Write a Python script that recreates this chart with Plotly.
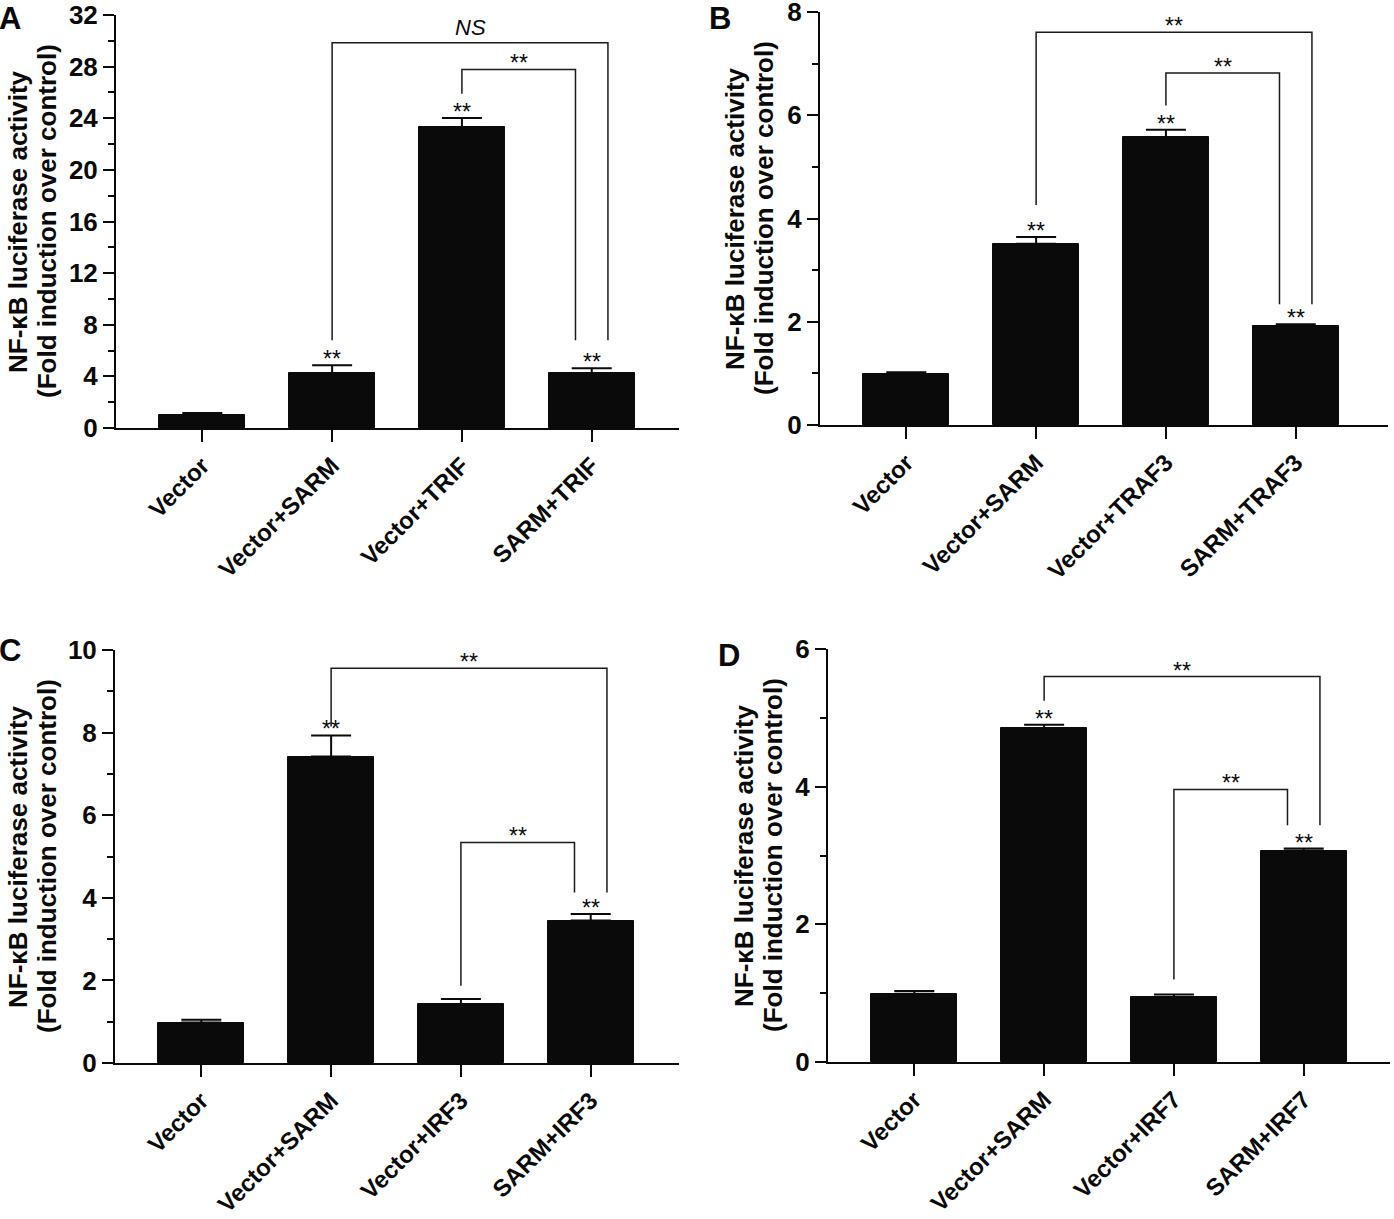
import plotly.graph_objects as go

W, H = 1394, 1219

# ---- data ---------------------------------------------------------------
groups_a = ["Vector", "Vector+SARM", "Vector+TRIF", "SARM+TRIF"]
mean_a = [1.0, 4.26, 23.3, 4.26]
err_a = [0.16, 0.60, 0.72, 0.37]
star_a = [False, True, True, True]

groups_b = ["Vector", "Vector+SARM", "Vector+TRAF3", "SARM+TRAF3"]
mean_b = [0.99, 3.51, 5.57, 1.91]
err_b = [0.03, 0.13, 0.15, 0.04]
star_b = [False, True, True, True]

groups_c = ["Vector", "Vector+SARM", "Vector+IRF3", "SARM+IRF3"]
mean_c = [0.98, 7.42, 1.43, 3.45]
err_c = [0.07, 0.51, 0.12, 0.16]
star_c = [False, True, False, True]

groups_d = ["Vector", "Vector+SARM", "Vector+IRF7", "SARM+IRF7"]
mean_d = [0.99, 4.85, 0.94, 3.07]
err_d = [0.04, 0.05, 0.04, 0.03]
star_d = [False, True, False, True]

# brackets: (left group, right group, right offset, top, left foot, right foot, label)
brackets_a = [(1, 3, 0.125, 29.85, 6.8, 6.8, "<i>NS</i>"),
              (2, 3, -0.125, 27.78, 25.9, 6.8, "**")]
brackets_b = [(1, 3, 0.125, 7.61, 4.26, 2.34, "**"),
              (2, 3, -0.125, 6.82, 6.19, 2.34, "**")]
brackets_c = [(1, 3, 0.125, 9.56, 8.15, 4.13, "**"),
              (2, 3, -0.125, 5.34, 1.87, 4.13, "**")]
brackets_d = [(1, 3, 0.125, 5.60, 5.25, 3.44, "**"),
              (2, 3, -0.125, 3.96, 1.20, 3.44, "**")]

y_top = [32, 8, 10, 6]
y_dtick = [4, 2, 2, 2]
y_minor = [2, 1, 1, 1]
letters = ["A", "B", "C", "D"]

# ---- panel geometry (page pixels) ------------------------------------------
# left, right, bottom, top, title centre x
boxes = [(116, 679, 428, 15, 33),
         (820, 1388, 425, 12, 750),
         (115, 679, 1063, 650, 32),
         (828, 1390, 1062, 649, 758)]
letter_pos = [(-2, 0), (708, 0), (-2, 632), (717, 637)]

FONT = "Liberation Sans, Arial, Helvetica, sans-serif"
BLACK = "#0a0a0a"


def px_x(v):
    return v / W


def px_y(v):
    return 1 - v / H


panels = [
    (groups_a, mean_a, err_a, star_a, brackets_a),
    (groups_b, mean_b, err_b, star_b, brackets_b),
    (groups_c, mean_c, err_c, star_c, brackets_c),
    (groups_d, mean_d, err_d, star_d, brackets_d),
]

fig = go.Figure()
annotations = []
shapes = []
layout = {}

for i, (groups, means, errs, stars, brackets) in enumerate(panels):
    n = i + 1
    xa = "x" if n == 1 else f"x{n}"
    ya = "y" if n == 1 else f"y{n}"
    left, right, bottom, top, tx = boxes[i]
    xs = list(range(len(groups)))
    # ~130px per group, y axis sits 0.665 group left of the first bar
    unit = 129.8
    x0 = -0.665
    x1 = x0 + (right - left) / unit

    fig.add_trace(go.Bar(
        x=xs, y=means, width=0.66, xaxis=xa, yaxis=ya,
        marker=dict(color=BLACK, line=dict(color=BLACK, width=1)),
        error_y=dict(type="data", symmetric=False, array=errs,
                     arrayminus=[0] * len(errs), color=BLACK,
                     thickness=2, width=20),
        showlegend=False, hoverinfo="skip",
    ))

    for j, has in enumerate(stars):
        if has:
            annotations.append(dict(
                x=xs[j], y=means[j] + errs[j], xref=xa, yref=ya,
                text="**", showarrow=False, yanchor="bottom",
                yshift=-9, font=dict(family=FONT, size=23, color=BLACK)))

    for (lg, rg, off, ytop, lfoot, rfoot, label) in brackets:
        xl = xs[lg]
        xr = xs[rg] + off
        fig.add_trace(go.Scatter(
            x=[xl, xl, xr, xr], y=[lfoot, ytop, ytop, rfoot],
            mode="lines", line=dict(color="#1a1a1a", width=1.5),
            xaxis=xa, yaxis=ya, showlegend=False, hoverinfo="skip"))
        annotations.append(dict(
            x=(xl + xr) / 2, y=ytop, xref=xa, yref=ya, text=label,
            showarrow=False, yanchor="bottom",
            yshift=-9 if label == "**" else 1,
            font=dict(family=FONT, size=23 if label == "**" else 22,
                      color=BLACK)))

    layout["xaxis" if n == 1 else f"xaxis{n}"] = dict(
        domain=[px_x(left), px_x(right)], anchor=ya, range=[x0, x1],
        tickvals=xs, ticktext=groups, tickangle=-45, automargin=False,
        ticklabeloverflow="allow",
        tickfont=dict(family=FONT, size=24, color=BLACK, weight="bold"),
        showline=True, linecolor=BLACK, linewidth=2,
        ticks="outside", ticklen=12, tickwidth=2, tickcolor=BLACK,
        showgrid=False, zeroline=False, fixedrange=True)
    layout["yaxis" if n == 1 else f"yaxis{n}"] = dict(
        domain=[px_y(bottom), px_y(top)], anchor=xa, automargin=False,
        ticklabeloverflow="allow",
        range=[0, y_top[i]], dtick=y_dtick[i], tick0=0,
        tickfont=dict(family=FONT, size=26, color=BLACK, weight="bold"),
        showline=True, linecolor=BLACK, linewidth=2,
        ticks="outside", ticklen=11, tickwidth=2, tickcolor=BLACK,
        minor=dict(dtick=y_minor[i], tick0=0, ticks="outside", ticklen=6,
                   tickwidth=2, tickcolor=BLACK, showgrid=False),
        showgrid=False, zeroline=False, fixedrange=True)

    # x axis line runs out to the end of the y ticks
    shapes.append(dict(type="line", xref=f"{xa} domain", yref=ya,
                       x0=-11 / (right - left), x1=0, y0=0, y1=0,
                       line=dict(color=BLACK, width=2)))

    cy = px_y((bottom + top) / 2)
    for k, line in enumerate(["NF-κB luciferase activity",
                              "(Fold induction over control)"]):
        annotations.append(dict(
            x=px_x(tx - 14.5 + 29 * k), y=cy, xref="paper", yref="paper",
            text=line, textangle=-90, showarrow=False,
            xanchor="center", yanchor="middle",
            font=dict(family=FONT, size=26, color=BLACK, weight="bold")))

    lx, ly = letter_pos[i]
    annotations.append(dict(
        x=px_x(lx), y=px_y(ly), xref="paper", yref="paper",
        text=letters[i], showarrow=False, xanchor="left", yanchor="top",
        borderpad=0,
        font=dict(family=FONT, size=31, color=BLACK, weight="bold")))

fig.update_layout(
    width=W, height=H, margin=dict(l=0, r=0, t=0, b=0, autoexpand=False),
    paper_bgcolor="white", plot_bgcolor="white",
    annotations=annotations, shapes=shapes, bargap=0,
    **layout,
)

# drop the default 8px page margin so the figure fills the window exactly
fig.write_html("out.html", config={"displayModeBar": False},
               post_script="document.body.style.margin='0';")
